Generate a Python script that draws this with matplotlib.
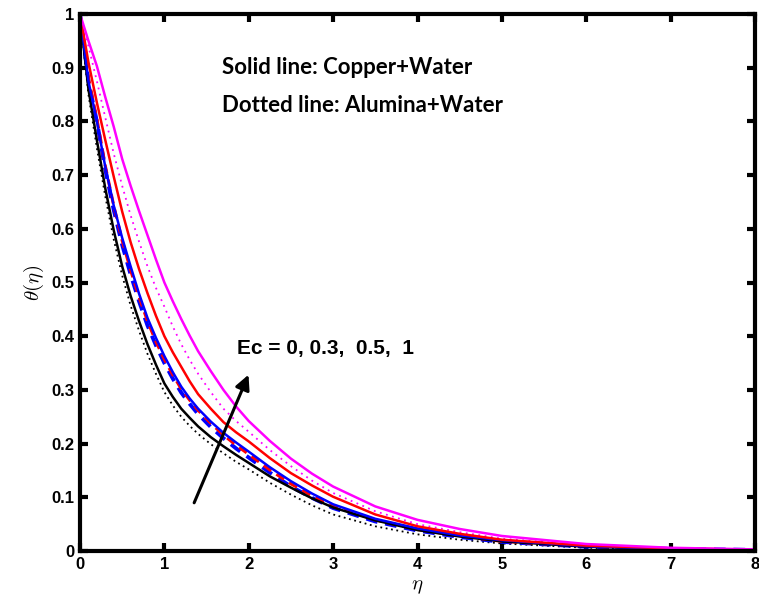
import matplotlib
matplotlib.use('Agg')
import matplotlib.pyplot as plt

plt.rcParams['mathtext.fontset'] = 'cm'

# eta grid and temperature profiles
eta = [0, 0.1, 0.2, 0.3, 0.4, 0.5, 0.6, 0.7, 0.8, 0.9, 1.0, 1.1, 1.2, 1.3, 1.4, 1.55, 1.7, 1.85,
       2.0, 2.25, 2.5, 2.75, 3.0, 3.5, 4.0, 4.5, 5.0, 6.0, 7.0, 8.0]

# Copper + water (solid)
cu_ec0 = [1.0, .86, .765, .675, .597, .53, .475, .428, .385, .347, .312, .287, .265, .248, .232, .212, .195, .179,
          .164, .139, .118, .098, .081, .057, .039, .027, .018, .008, .004, .002]
cu_ec03 = [1.0, .875, .8, .715, .643, .583, .53, .479, .434, .397, .363, .333, .306, .284, .265, .241, .22, .202,
           .185, .156, .13, .107, .087, .06, .042, .029, .02, .009, .004, .002]
cu_ec05 = [1.0, .91, .835, .765, .697, .632, .575, .525, .48, .438, .4, .37, .343, .316, .292, .265, .24, .221,
           .204, .173, .145, .122, .101, .068, .046, .032, .021, .01, .005, .002]
cu_ec1 = [1.0, .95, .903, .845, .79, .73, .68, .633, .588, .543, .5, .465, .432, .401, .372, .335, .3, .269,
          .242, .205, .172, .144, .12, .083, .058, .041, .028, .013, .006, .003]

# Alumina + water (dotted / dashed)
al_ec0 = [1.0, .85, .75, .66, .58, .513, .457, .41, .367, .33, .296, .271, .25, .233, .218, .199, .182, .166,
          .152, .127, .105, .085, .068, .046, .031, .021, .014, .006, .003, .001]
al_ec03 = [1.0, .875, .8, .71, .635, .57, .515, .465, .42, .383, .35, .321, .295, .274, .255, .231, .21, .191,
           .174, .146, .12, .099, .08, .055, .038, .026, .017, .008, .004, .002]
al_ec05 = [1.0, .88, .805, .717, .643, .578, .523, .473, .428, .39, .357, .328, .302, .281, .262, .238, .216, .197,
           .18, .151, .125, .103, .084, .058, .04, .028, .018, .009, .004, .002]
al_ec1 = [1.0, .94, .875, .807, .74, .68, .625, .576, .53, .49, .455, .418, .385, .356, .33, .296, .265, .242,
          .222, .188, .158, .131, .108, .074, .05, .035, .023, .011, .005, .003]

xticks = [0, 1, 2, 3, 4, 5, 6, 7, 8]
yticks = [0, 0.1, 0.2, 0.3, 0.4, 0.5, 0.6, 0.7, 0.8, 0.9, 1]
ytick_labels = ['0', '0.1', '0.2', '0.3', '0.4', '0.5', '0.6', '0.7', '0.8', '0.9', '1']

fig = plt.figure(figsize=(7.59, 6), dpi=100)
ax = fig.add_axes([80 / 759, 49 / 600, 675 / 759, 537 / 600])

# alumina lines underneath
ax.plot(eta, al_ec0, color='black', linestyle=(0, (1, 2)), linewidth=1.3)
ax.plot(eta, al_ec03, color='blue', linestyle=(0, (3, 2)), linewidth=2.8)
ax.plot(eta, al_ec05, color='red', linestyle=(0, (3, 2)), linewidth=2.2)
ax.plot(eta, al_ec1, color='magenta', linestyle=(0, (1, 2.5)), linewidth=1.3)

# copper lines
ax.plot(eta, cu_ec0, color='black', linewidth=1.8)
ax.plot(eta, cu_ec03, color='blue', linewidth=1.8)
ax.plot(eta, cu_ec05, color='red', linewidth=1.8)
ax.plot(eta, cu_ec1, color='magenta', linewidth=1.8)

ax.set_xlim(0, 8)
ax.set_ylim(0, 1)
ax.set_xticks(xticks)
ax.set_xticklabels([str(t) for t in xticks])
ax.set_yticks(yticks)
ax.set_yticklabels(ytick_labels)

for s in ax.spines.values():
    s.set_linewidth(3)
ax.tick_params(direction='in', length=6, width=3, top=True, right=True, pad=4)
for lab in ax.get_xticklabels() + ax.get_yticklabels():
    lab.set_fontfamily('Liberation Sans')
    lab.set_fontweight('bold')
    lab.set_fontsize(12)

ax.set_xlabel(r'$\eta$', fontsize=15, labelpad=3)
ax.set_ylabel(r'$\theta(\eta)$', fontsize=15, labelpad=4)

ax.text(1.68, 0.9, 'Solid line: Copper+Water', fontsize=16, fontweight='bold',
        family='Lato', va='center', ha='left')
ax.text(1.68, 0.83, 'Dotted line: Alumina+Water', fontsize=16, fontweight='bold',
        family='Lato', va='center', ha='left')

ax.text(1.855, 0.378, 'Ec = 0, 0.3,  0.5,  1', fontsize=15, fontweight='bold',
        family='Liberation Sans', va='center', ha='left')
ax.annotate('', xy=(2.01, 0.333), xytext=(1.34, 0.085),
            arrowprops=dict(arrowstyle='-|>', color='black', lw=2.2, mutation_scale=22))

fig.savefig('out.png', dpi=100)
